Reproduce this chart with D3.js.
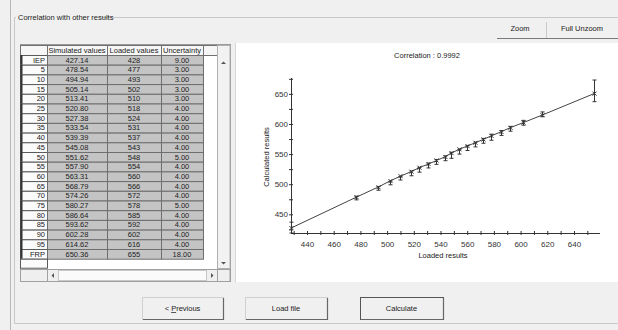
<!DOCTYPE html>
<html>
<head>
<meta charset="utf-8">
<script src="https://cdn.jsdelivr.net/npm/d3@7"></script>
<style>
  html, body { margin: 0; padding: 0; background: #f0f0f0; }
  svg { display: block; font-family: "Liberation Sans", Arial, sans-serif; }
</style>
</head>
<body>
<svg id="chart" width="618" height="330"></svg>
<script>
// table / chart data
const rowLabels = ["IEP","5","10","15","20","25","30","35","40","45","50","55","60","65","70","75","80","85","90","95","FRP"];
const simulated = [427.14,478.54,494.94,505.14,513.41,520.80,527.38,533.54,539.39,545.08,551.62,557.90,563.31,568.79,574.26,580.27,586.64,593.62,602.28,614.62,650.36];
const loaded = [428,477,493,502,510,518,524,531,537,543,548,554,560,566,572,578,585,592,602,616,655];
const uncertainty = [9,3,3,3,3,4,4,4,4,4,5,4,4,4,4,5,4,4,4,4,18];
const headers = ["", "Simulated values", "Loaded values", "Uncertainty", ""];
const xTicks = [440,460,480,500,520,540,560,580,600,620,640];
const yTicks = [450,500,550,600,650];
const correlation = "0.9992";

const svg = d3.select("#chart");

// window background and frames
svg.append("rect").attr("width", 618).attr("height", 330).attr("fill", "#f0f0f0");
svg.append("line").attr("x1", 10.5).attr("x2", 10.5).attr("y1", 0).attr("y2", 330).attr("stroke", "#b8b8b8");

// group box
svg.append("path")
   .attr("d", "M100,17.5 H618 M14.5,17.5 H16 M14.5,17.5 V323.5 H618")
   .attr("fill", "none").attr("stroke", "#c8c8c8");
svg.append("text").attr("x", 18).attr("y", 20).style("font-size", "7.5px").attr("fill", "#222")
   .text("Correlation with other results");

// zoom buttons
const topBtns = svg.append("g");
topBtns.append("line").attr("x1", 497).attr("x2", 618).attr("y1", 38.5).attr("y2", 38.5).attr("stroke", "#7a7a7a");
topBtns.append("line").attr("x1", 546.5).attr("x2", 546.5).attr("y1", 22).attr("y2", 38).attr("stroke", "#c8c8c8");
topBtns.append("text").attr("x", 520).attr("y", 31).attr("text-anchor", "middle").style("font-size", "7.5px").attr("fill", "#222").text("Zoom");
topBtns.append("text").attr("x", 582).attr("y", 31).attr("text-anchor", "middle").style("font-size", "7.5px").attr("fill", "#222").text("Full Unzoom");

// ---------- table ----------
const colX = [20, 47, 107, 161, 203, 217];
const headTop = 45, rowTop = 55, rowH = 9.7;
const table = svg.append("g").style("font-size", "7.5px");

table.append("rect").attr("x", 20.5).attr("y", 44.5).attr("width", 210).attr("height", 237)
     .attr("fill", "#fff").attr("stroke", "#9a9a9a");

// header row
headers.forEach((h, i) => {
  table.append("rect").attr("x", colX[i] + 0.5).attr("y", headTop + 0.5)
       .attr("width", colX[i + 1] - colX[i]).attr("height", rowTop - headTop)
       .attr("fill", "#f6f6f6").attr("stroke", "#707070");
  table.append("text").attr("x", (colX[i] + colX[i + 1]) / 2).attr("y", headTop + 7.5)
       .attr("text-anchor", "middle").attr("fill", "#222").text(h);
});

// data rows
const rows = rowLabels.map((r, i) => [r, simulated[i].toFixed(2), String(loaded[i]), uncertainty[i].toFixed(2)]);
rows.forEach((row, r) => {
  const y = rowTop + r * rowH;
  // row header
  table.append("rect").attr("x", colX[0] + 0.5).attr("y", y + 0.5).attr("width", colX[1] - colX[0]).attr("height", rowH)
       .attr("fill", "#fbfbfb").attr("stroke", "#5a5a5a");
  table.append("line").attr("x1", colX[0] + 1.5).attr("x2", colX[0] + 1.5).attr("y1", y).attr("y2", y + rowH)
       .attr("stroke", "#333").attr("stroke-width", 2);
  table.append("text").attr("x", colX[1] - 2).attr("y", y + 7.5).attr("text-anchor", "end").attr("fill", "#222").text(row[0]);
  for (let c = 1; c < 4; c++) {
    table.append("rect").attr("x", colX[c] + 0.5).attr("y", y + 0.5).attr("width", colX[c + 1] - colX[c]).attr("height", rowH)
         .attr("fill", "#c4c4c4").attr("stroke", "#6e6e6e");
    table.append("text").attr("x", (colX[c] + colX[c + 1]) / 2).attr("y", y + 7.5)
         .attr("text-anchor", "middle").attr("fill", "#222").text(row[c]);
  }
});
// empty row header under data
const endY = rowTop + rows.length * rowH;
table.append("rect").attr("x", 20.5).attr("y", endY + 0.5).attr("width", 27).attr("height", 9)
     .attr("fill", "#fbfbfb").attr("stroke", "#5a5a5a");

// vertical scrollbar
table.append("rect").attr("x", 217.5).attr("y", 45.5).attr("width", 12.5).attr("height", 223)
     .attr("fill", "#f2f2f2").attr("stroke", "#b0b0b0");
table.append("path").attr("d", "M221,64 L223.5,61.5 L226,64 Z").attr("fill", "#555");
table.append("path").attr("d", "M221,262 L223.5,264.5 L226,262 Z").attr("fill", "#555");
// horizontal scrollbar
table.append("rect").attr("x", 20.5).attr("y", 269.5).attr("width", 209.5).attr("height", 12)
     .attr("fill", "#efefef").attr("stroke", "#a0a0a0");
table.append("rect").attr("x", 58.5).attr("y", 270.5).attr("width", 148).attr("height", 10)
     .attr("fill", "#fafafa").attr("stroke", "#c8c8c8");
table.append("path").attr("d", "M54,275.5 L51.5,275.5 L54,273 Z M54,275.5 L51.5,275.5 L54,278 Z").attr("fill", "#555");
table.append("path").attr("d", "M211,273 L213.5,275.5 L211,278 Z").attr("fill", "#555");
table.append("line").attr("x1", 47.5).attr("x2", 47.5).attr("y1", 269).attr("y2", 281).attr("stroke", "#a0a0a0");
table.append("line").attr("x1", 217.5).attr("x2", 217.5).attr("y1", 269).attr("y2", 281).attr("stroke", "#a0a0a0");

// ---------- chart panel ----------
svg.append("rect").attr("x", 236).attr("y", 43).attr("width", 382).attr("height", 239).attr("fill", "#fff");
svg.append("line").attr("x1", 235.5).attr("x2", 235.5).attr("y1", 43).attr("y2", 282).attr("stroke", "#d8d8d8");

const xScale = d3.scaleLinear().domain([428, 655]).range([291, 594]);
const yScale = d3.scaleLinear().domain([419, 673]).range([233, 80]);

const plot = svg.append("g").style("font-size", "8px");

// X axis
const xAxis = plot.append("g")
    .attr("transform", "translate(0,233)")
    .call(d3.axisBottom(xScale).tickValues(d3.range(430, 660, 10)).tickSize(3)
          .tickFormat(d => xTicks.includes(d) ? d : ""));
xAxis.select(".domain").attr("d", "M291,0.5 H600").attr("stroke", "#333");
xAxis.selectAll(".tick line").attr("y1", -2).attr("y2", 2).attr("stroke", "#333");
xAxis.selectAll(".tick text").attr("y", 8).attr("fill", "#333").style("font-size", "8px")
     .style("font-family", "Liberation Sans, Arial, sans-serif");

// Y axis
const yAxis = plot.append("g")
    .attr("transform", "translate(291,0)")
    .call(d3.axisLeft(yScale).tickValues(d3.range(425, 676, 25)).tickSize(3)
          .tickFormat(d => yTicks.includes(d) ? d : ""));
yAxis.select(".domain").attr("d", "M0.5,233 V78").attr("stroke", "#333");
yAxis.selectAll(".tick line").attr("x1", -2).attr("x2", 2).attr("stroke", "#333");
yAxis.selectAll(".tick text").attr("x", -3).attr("fill", "#333").style("font-size", "8px")
     .style("font-family", "Liberation Sans, Arial, sans-serif");

// axis titles
plot.append("text").attr("x", 427).attr("y", 58).attr("text-anchor", "middle").attr("fill", "#222")
    .style("font-size", "7.5px").text("Correlation : " + correlation);
plot.append("text").attr("x", 443).attr("y", 258).attr("text-anchor", "middle").attr("fill", "#222")
    .style("font-size", "7.5px").text("Loaded results");
plot.append("text").attr("transform", "translate(269,157)rotate(-90)").attr("text-anchor", "middle").attr("fill", "#222")
    .style("font-size", "7.5px").text("Calculated results");

// line through points
const pts = loaded.map((l, i) => ({ l: l, s: simulated[i], u: uncertainty[i] }));
const linefunc = d3.line().x(d => xScale(d.l)).y(d => yScale(d.s));
plot.append("path").datum(pts).attr("d", linefunc).attr("fill", "none").attr("stroke", "#444").attr("stroke-width", 1);

// error bars (loaded value +/- uncertainty)
const bars = plot.append("g").attr("stroke", "#333").attr("stroke-width", 1);
pts.forEach(d => {
  const x = Math.round(xScale(d.l)) + 0.5;
  const y1 = yScale(d.l - d.u), y2 = yScale(d.l + d.u);
  bars.append("line").attr("x1", x).attr("x2", x).attr("y1", y1).attr("y2", y2);
  bars.append("line").attr("x1", x - 2).attr("x2", x + 2).attr("y1", y1).attr("y2", y1);
  bars.append("line").attr("x1", x - 2).attr("x2", x + 2).attr("y1", y2).attr("y2", y2);
  // marker
  const ys = yScale(d.s);
  bars.append("path").attr("d", `M${x - 2},${ys - 2} L${x + 2},${ys + 2} M${x - 2},${ys + 2} L${x + 2},${ys - 2}`);
});

// ---------- bottom buttons ----------
function button(x0, x1, label, isDefault) {
  const g = svg.append("g");
  g.append("rect").attr("x", x0 + 0.5).attr("y", 297.5).attr("width", x1 - x0).attr("height", 22)
   .attr("fill", "#f0f0f0").attr("stroke", isDefault ? "#555" : "#d0d0d0");
  g.append("path").attr("d", `M${x0 + 1},${319.5} H${x1 + 0.5} V298`)
   .attr("fill", "none").attr("stroke", "#666").attr("stroke-width", 1.2);
  g.append("text").attr("x", (x0 + x1) / 2).attr("y", 311).attr("text-anchor", "middle")
   .style("font-size", "7.5px").attr("fill", "#222").text(label);
  return g;
}
const prev = button(142, 223, "", false);
prev.select("text").text("< ").append("tspan").style("text-decoration", "underline").text("P");
prev.select("text").append("tspan").text("revious");
button(245, 327, "Load file", false);
button(360, 443, "Calculate", true);
</script>
</body>
</html>
